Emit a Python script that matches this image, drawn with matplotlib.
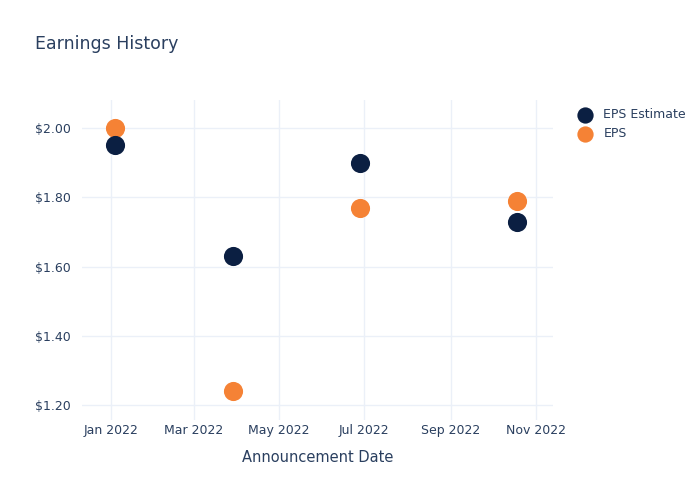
import matplotlib.pyplot as plt
import pandas as pd
from matplotlib import dates as mpl_dates
from matplotlib.ticker import FuncFormatter

dates = pd.to_datetime(['2022-01-04', '2022-03-29', '2022-06-28', '2022-10-18'])
eps_estimate = [1.95, 1.63, 1.90, 1.73]
eps = [2.00, 1.24, 1.77, 1.79]

navy = '#0b1f42'
orange = '#f58235'
text_col = '#2a3f5f'
grid_col = '#ebf0f8'

fig = plt.figure(figsize=(7, 5), dpi=100)
ax = fig.add_axes([0.117, 0.16, 0.673, 0.64])

ax.scatter(dates, eps_estimate, s=190, color=navy, label='EPS Estimate', zorder=4, linewidths=0)
ax.scatter(dates, eps, s=190, color=orange, label='EPS', zorder=3, linewidths=0)

ax.set_xlim(pd.Timestamp('2021-12-11'), pd.Timestamp('2022-11-13'))
ax.set_ylim(1.157, 2.081)

ax.xaxis.set_major_locator(mpl_dates.MonthLocator(bymonth=[1, 3, 5, 7, 9, 11]))
ax.xaxis.set_major_formatter(mpl_dates.DateFormatter('%b %Y'))
ax.set_yticks([1.2, 1.4, 1.6, 1.8, 2.0])
ax.yaxis.set_major_formatter(FuncFormatter(lambda v, p: '${:.2f}'.format(v)))

ax.grid(True, color=grid_col, linewidth=1, zorder=0)
ax.set_axisbelow(True)
for s in ax.spines.values():
    s.set_visible(False)
ax.tick_params(axis='y', length=0, labelsize=9, colors=text_col, pad=8)
ax.tick_params(axis='x', length=0, labelsize=9, colors=text_col, pad=3)

ax.set_xlabel('Announcement Date', fontsize=10.5, color=text_col, labelpad=9)
fig.text(0.05, 0.912, 'Earnings History', fontsize=12.5, color=text_col, va='center')

leg = ax.legend(loc='upper left', bbox_to_anchor=(1.03, 0.99), frameon=False,
                fontsize=9, labelcolor=text_col, handletextpad=0.5,
                borderaxespad=0, markerscale=0.85, labelspacing=0.5)

fig.savefig('out.png', dpi=100)
